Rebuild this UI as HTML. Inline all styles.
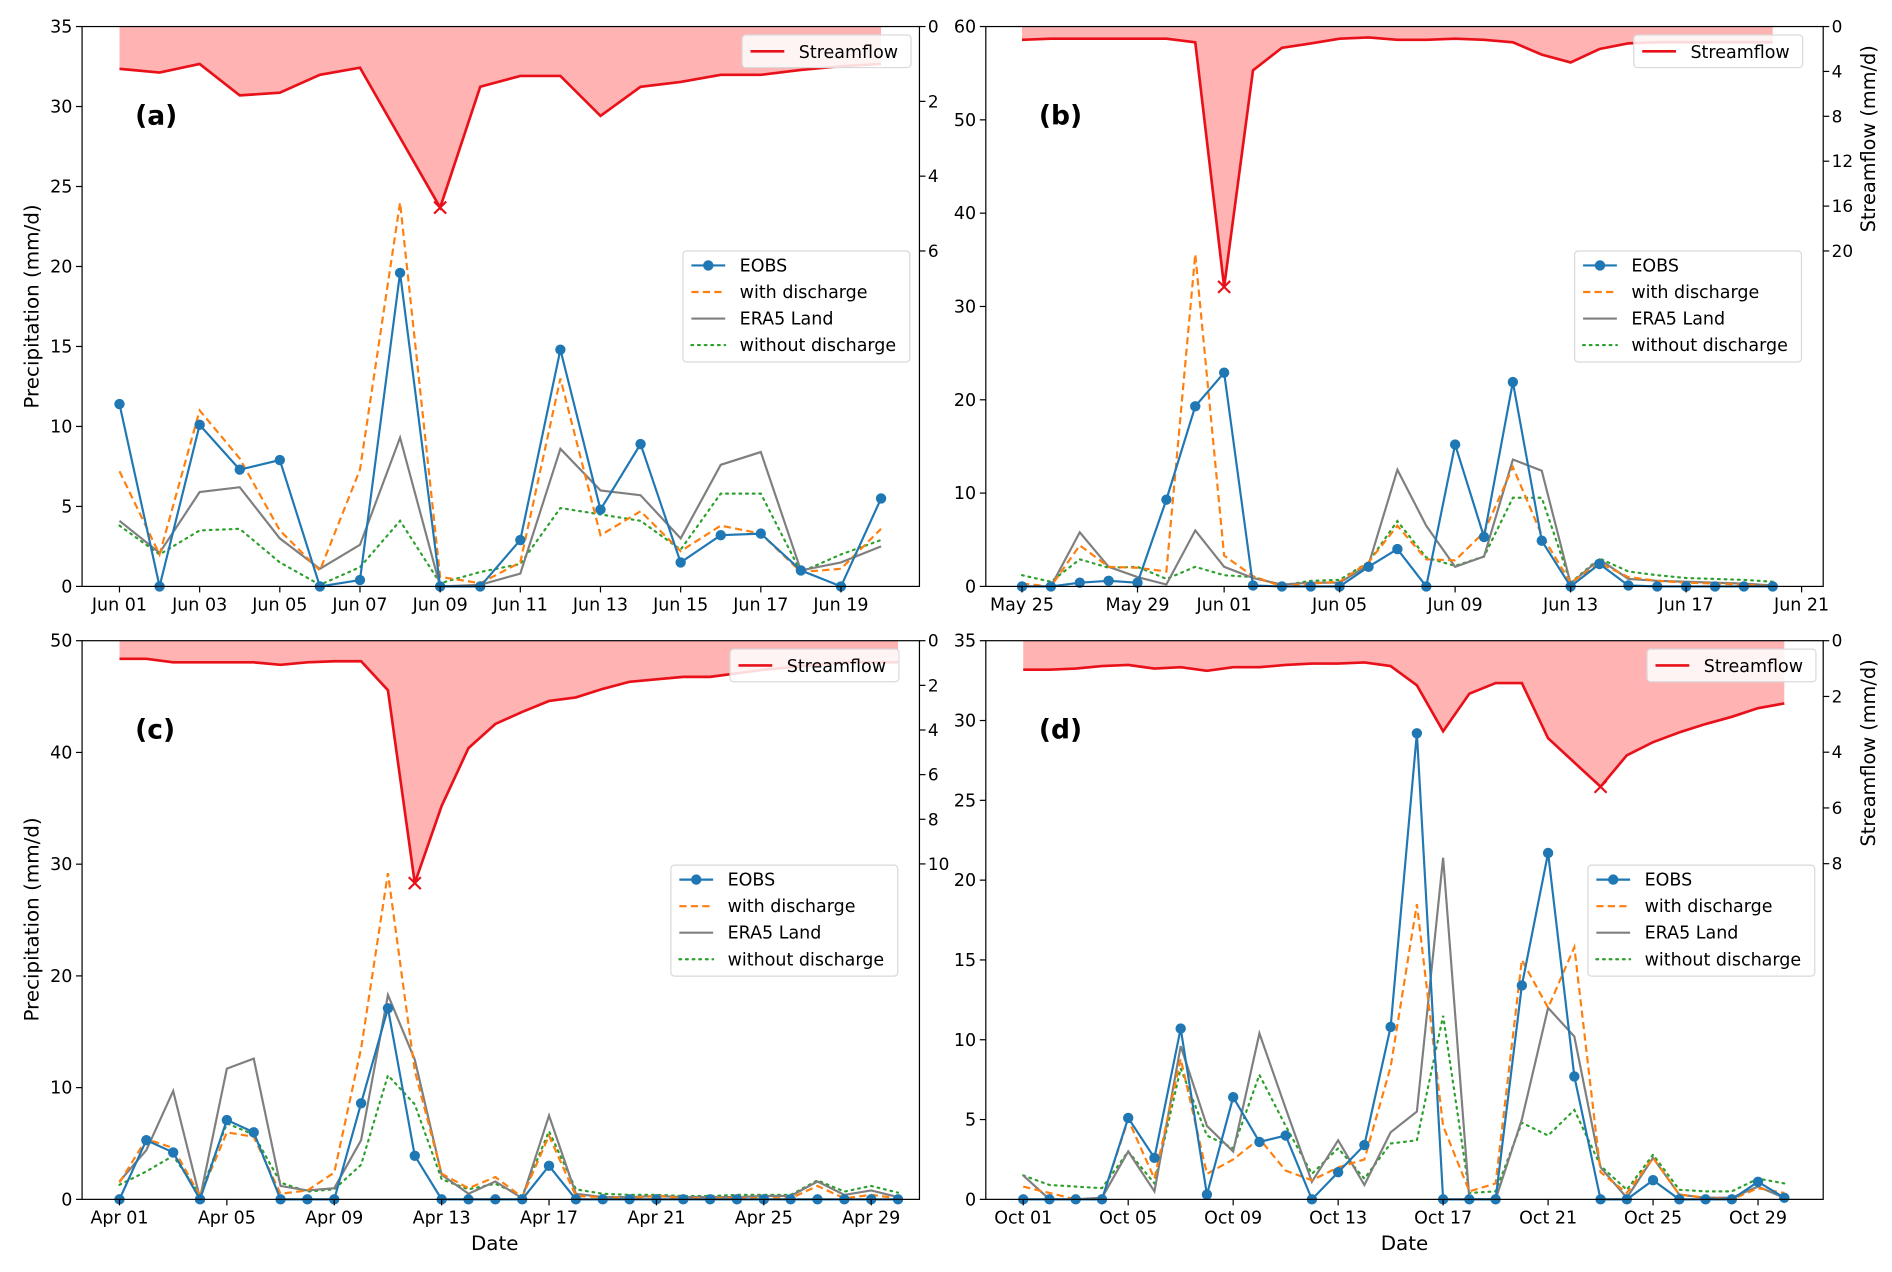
<!DOCTYPE html>
<html><head><meta charset="utf-8"><style>
html,body{margin:0;padding:0;background:#fff;}
svg{display:block;font-family:"DejaVu Sans","Liberation Sans",sans-serif;}
</style></head><body>
<svg id="fig" width="1892" height="1272" viewBox="0 0 1568 1054.2" xmlns="http://www.w3.org/2000/svg"></svg>
<script>
// ---- Panel (a) data: Jun 01 - Jun 20
const aDays = 20;
const aEOBS = [11.4,0,10.1,7.3,7.9,0,0.4,19.6,0,0,2.9,14.8,4.8,8.9,1.5,3.2,3.3,1.0,0,5.5];
const aWith = [7.2,2.0,11.0,8.0,3.5,1.0,7.3,24.0,0.6,0.2,1.5,13.0,3.2,4.7,2.2,3.8,3.3,0.9,1.1,3.6];
const aERA5 = [4.1,2.1,5.9,6.2,3.0,1.1,2.6,9.3,0,0.1,0.8,8.6,6.0,5.7,3.0,7.6,8.4,1.0,1.5,2.5];
const aWithout = [3.8,2.0,3.5,3.6,1.5,0.1,1.2,4.1,0.2,0.9,1.4,4.9,4.5,4.1,2.3,5.8,5.8,0.9,2.0,2.9];
const aFlow = [1.13,1.23,1.0,1.84,1.77,1.29,1.10,2.97,4.84,1.61,1.32,1.32,2.39,1.61,1.48,1.29,1.29,1.16,1.06,1.0];
const aTickIdx = [0,2,4,6,8,10,12,14,16,18];
const aTickLab = ["Jun 01","Jun 03","Jun 05","Jun 07","Jun 09","Jun 11","Jun 13","Jun 15","Jun 17","Jun 19"];
// ---- Panel (b) data: May 25 - Jun 20
const bDays = 27;
const bEOBS = [0,0,0.4,0.6,0.4,9.3,19.3,22.9,0.1,0,0,0,2.1,4.0,0,15.2,5.3,21.9,4.9,0,2.4,0.1,0,0,0,0,0];
const bWith = [0.3,0,4.4,2.1,2.0,1.6,35.6,3.3,1.1,0,0.3,0.5,2.6,6.5,2.9,2.8,5.8,12.8,5.5,0.4,2.5,1.0,0.6,0.4,0.3,0.2,0];
const bERA5 = [0,0,5.8,2.1,1.0,0.2,6.0,2.1,0.9,0.2,0.4,0.4,2.3,12.5,6.5,2.1,3.2,13.6,12.4,0.3,2.9,0.8,0.6,0.5,0.4,0.3,0.1];
const bWithout = [1.2,0.5,2.9,2.0,2.1,0.8,2.1,1.2,1.0,0.1,0.6,0.7,2.6,7.0,3.1,2.2,3.2,9.5,9.5,0.4,3.0,1.6,1.2,0.9,0.8,0.7,0.5];
const bFlow = [1.18,1.08,1.08,1.08,1.08,1.08,1.4,23.2,3.9,1.9,1.5,1.08,0.97,1.18,1.18,1.08,1.18,1.4,2.5,3.2,2.0,1.5,1.4,1.4,1.4,1.4,1.4];
const bTickIdx = [0,4,7,11,15,19,23,27];
const bTickLab = ["May 25","May 29","Jun 01","Jun 05","Jun 09","Jun 13","Jun 17","Jun 21"];
// ---- Panel (c) data: Apr 01 - Apr 30
const cDays = 30;
const cEOBS = [0,5.3,4.2,0,7.1,6.0,0,0,0,8.6,17.1,3.9,0,0,0,0,3.0,0,0,0,0,0,0,0,0,0,0,0,0,0];
const cWith = [1.5,5.4,4.6,0.3,6.0,5.6,0.5,0.8,2.4,13.5,29.2,11.5,2.3,1.0,2.0,0.2,5.7,0.3,0.2,0.1,0.3,0.1,0.1,0.1,0.1,0.1,1.2,0.1,0.4,0.1];
const cERA5 = [1.6,4.4,9.7,0.1,11.7,12.6,1.2,0.8,1.0,5.3,18.3,12.5,2.2,0.5,1.6,0.1,7.5,0.5,0.2,0.2,0.3,0.2,0.2,0.2,0.3,0.3,1.6,0.4,0.8,0.2];
const cWithout = [1.3,2.5,3.9,0.4,6.8,5.8,1.5,0.7,0.9,3.1,11.1,8.5,1.8,0.9,1.4,0.3,6.1,0.9,0.5,0.4,0.4,0.3,0.3,0.4,0.4,0.4,1.7,0.7,1.2,0.6];
const cFlow = [0.81,0.81,0.97,0.97,0.97,0.97,1.08,0.97,0.92,0.92,2.22,10.86,7.4,4.81,3.73,3.19,2.7,2.54,2.16,1.84,1.73,1.62,1.62,1.46,1.3,1.19,1.08,0.97,0.97,0.97];
const cTickIdx = [0,4,8,12,16,20,24,28];
const cTickLab = ["Apr 01","Apr 05","Apr 09","Apr 13","Apr 17","Apr 21","Apr 25","Apr 29"];
// ---- Panel (d) data: Oct 01 - Oct 30
const dDays = 30;
const dEOBS = [0,0,0,0,5.1,2.6,10.7,0.3,6.4,3.6,4.0,0,1.7,3.4,10.8,29.2,0,0,0,13.4,21.7,7.7,0,0,1.2,0,0,0,1.1,0.1];
const dWith = [0.8,0.4,0,0,5.0,1.3,8.8,1.6,2.5,3.8,1.8,1.2,2.0,2.5,8.3,18.5,4.6,0.5,1.0,15.0,12.0,15.8,1.7,0.4,2.6,0.3,0.1,0,0.7,0.4];
const dERA5 = [1.5,0,0,0.1,3.0,0.5,9.6,4.6,3.0,10.4,5.7,1.1,3.7,0.9,4.2,5.5,21.4,0,0,5.0,12.0,10.2,2.0,0.1,2.6,0.3,0.1,0.1,0.8,0.1];
const dWithout = [1.5,0.9,0.8,0.7,3.0,1.0,8.2,4.0,3.2,7.8,4.6,1.6,3.2,1.3,3.5,3.7,11.5,0.4,0.5,4.8,4.0,5.6,2.1,0.6,2.8,0.6,0.5,0.5,1.3,1.0];
const dFlow = [1.04,1.04,1.0,0.91,0.87,1.0,0.95,1.08,0.95,0.95,0.87,0.82,0.82,0.78,0.91,1.6,3.25,1.9,1.52,1.52,3.5,4.37,5.24,4.11,3.64,3.29,2.99,2.73,2.42,2.25];
const dTickIdx = [0,4,8,12,16,20,24,28];
const dTickLab = ["Oct 01","Oct 05","Oct 09","Oct 13","Oct 17","Oct 21","Oct 25","Oct 29"];

const NS = "http://www.w3.org/2000/svg";
const fig = document.getElementById('fig');
function mk(tag, attrs, parent, txt){
  const e = document.createElementNS(NS, tag);
  for (const k in attrs) e.setAttribute(k, attrs[k]);
  if (txt !== undefined) e.textContent = txt;
  (parent || fig).appendChild(e);
  return e;
}

function panel(cfg){
  const g = mk('g', {});
  
  
  const L = cfg.L, R = cfg.R, T = cfg.T, B = cfg.B;
  const x = i => cfg.x0 + cfg.dx * i;
  const y = v => B - (B - T) * v / cfg.ymax;
  const yr = v => T + cfg.rscale * v;

  let fp = 'M' + x(0) + ',' + T;
  cfg.flow.forEach((v, i) => { fp += ' L' + x(i) + ',' + yr(v); });
  fp += ' L' + x(cfg.flow.length - 1) + ',' + T + ' Z';
  const fill = mk('path', {d: fp, fill: '#ffb3b3', stroke: 'none'}, g);
  
  
  const fl = mk('polyline', {points: cfg.flow.map((v, i) => x(i) + ',' + yr(v)).join(' '), fill: 'none', stroke: '#e8111a', 'stroke-width': 2.2}, g);
  
  
  let mi = 0; cfg.flow.forEach((v, i) => { if (v > cfg.flow[mi]) mi = i; });
  const mx = x(mi), my = yr(cfg.flow[mi]);
  const xm = mk('path', {d: `M${mx-5},${my-5} L${mx+5},${my+5} M${mx-5},${my+5} L${mx+5},${my-5}`, stroke: '#e8111a', 'stroke-width': 1.8}, g);
  
  

  const series = [
    {d: cfg.without, c: '#2ca02c', dash: '1.5,4', w: 1.8, n: 'without-discharge-line', cap: 'round'},
    {d: cfg.era, c: '#7f7f7f', dash: '', w: 1.8, n: 'era5-land-line'},
    {d: cfg.withd, c: '#ff7f0e', dash: '6,3.5', w: 1.8, n: 'with-discharge-line'},
    {d: cfg.eobs, c: '#1f77b4', dash: '', w: 1.8, n: 'eobs-line'}
  ];
  series.forEach(s => {
    const p = mk('polyline', {points: s.d.map((v, i) => x(i) + ',' + y(v)).join(' '), fill: 'none', stroke: s.c, 'stroke-width': s.w, 'stroke-dasharray': s.dash, 'stroke-linecap': s.cap || 'butt'}, g);
    
    
  });
  cfg.eobs.forEach((v, i) => {
    const c = mk('circle', {cx: x(i), cy: y(v), r: 4.3, fill: '#1f77b4'}, g);
    
    
  });

  const fr = mk('rect', {x: L, y: T, width: R - L, height: B - T, fill: 'none', stroke: '#000', 'stroke-width': 1}, g);
  
  

  cfg.tickIdx.forEach((ti, k) => {
    mk('line', {x1: x(ti), x2: x(ti), y1: B, y2: B + 5, stroke: '#000'}, g);
    const t = mk('text', {x: x(ti), y: B + 20, 'font-size': 14.5, 'text-anchor': 'middle'}, g, cfg.tickLab[k]);
    
    
  });
  for (let v = 0; v <= cfg.ymax + 1e-9; v += cfg.ystep) {
    mk('line', {x1: L - 5, x2: L, y1: y(v), y2: y(v), stroke: '#000'}, g);
    const t = mk('text', {x: L - 8, y: y(v) + 5, 'font-size': 14.5, 'text-anchor': 'end'}, g, String(v));
    
    
  }
  cfg.rticks.forEach(v => {
    mk('line', {x1: R, x2: R + 5, y1: yr(v), y2: yr(v), stroke: '#000'}, g);
    const t = mk('text', {x: R + 7, y: yr(v) + 5, 'font-size': 14, 'text-anchor': 'start'}, g, String(v));
    
    
  });
  const pl = mk('text', {x: L + 44, y: T + 81, 'font-size': 22, 'font-weight': 'bold'}, g, '(' + cfg.id + ')');
  
  

  const sl = mk('g', {}, g);
  
  
  const sx = cfg.slx, sy = cfg.sly;
  mk('rect', {x: sx, y: sy, width: 140, height: 27, rx: 3, fill: '#fff', 'fill-opacity': 0.85, stroke: '#d9d9d9'}, sl);
  mk('line', {x1: sx + 7, x2: sx + 35, y1: sy + 13.5, y2: sy + 13.5, stroke: '#e8111a', 'stroke-width': 2.2}, sl);
  mk('text', {x: sx + 47, y: sy + 19, 'font-size': 14.5}, sl, 'Streamflow');

  const lg = mk('g', {}, g);
  
  
  const lx = cfg.lgx, ly = cfg.lgy;
  mk('rect', {x: lx, y: ly, width: 188, height: 92, rx: 3, fill: '#fff', 'fill-opacity': 0.85, stroke: '#d9d9d9'}, lg);
  const ents = [
    ['EOBS', '#1f77b4', '', true], ['with discharge', '#ff7f0e', '6,3.5', false],
    ['ERA5 Land', '#7f7f7f', '', false], ['without discharge', '#2ca02c', '1.5,4', false]
  ];
  ents.forEach((e, k) => {
    const yy = ly + 12 + k * 22;
    const eg = mk('g', {}, lg);
    
    
    mk('line', {x1: lx + 7, x2: lx + 35, y1: yy, y2: yy, stroke: e[1], 'stroke-width': 1.8, 'stroke-dasharray': e[2], 'stroke-linecap': e[2] === '1.5,4' ? 'round' : 'butt'}, eg);
    if (e[3]) mk('circle', {cx: lx + 21, cy: yy, r: 4.3, fill: e[1]}, eg);
    mk('text', {x: lx + 47, y: yy + 5, 'font-size': 14.5}, eg, e[0]);
  });
}

panel({id: 'a', L: 68, R: 762, T: 22, B: 486, x0: 99, dx: 33.22, ymax: 35, ystep: 5, rscale: 31, rticks: [0,2,4,6],
  eobs: aEOBS, withd: aWith, era: aERA5, without: aWithout, flow: aFlow, tickIdx: aTickIdx, tickLab: aTickLab,
  slx: 615, sly: 29, lgx: 566, lgy: 208});
panel({id: 'b', L: 817, R: 1511, T: 22, B: 486, x0: 847, dx: 23.93, ymax: 60, ystep: 10, rscale: 9.3, rticks: [0,4,8,12,16,20],
  eobs: bEOBS, withd: bWith, era: bERA5, without: bWithout, flow: bFlow, tickIdx: bTickIdx, tickLab: bTickLab,
  slx: 1354, sly: 29, lgx: 1305, lgy: 208});
panel({id: 'c', L: 68, R: 762, T: 531, B: 994, x0: 99, dx: 22.25, ymax: 50, ystep: 10, rscale: 18.5, rticks: [0,2,4,6,8,10],
  eobs: cEOBS, withd: cWith, era: cERA5, without: cWithout, flow: cFlow, tickIdx: cTickIdx, tickLab: cTickLab,
  slx: 605, sly: 538, lgx: 556, lgy: 717});
panel({id: 'd', L: 817, R: 1511, T: 531, B: 994, x0: 848, dx: 21.75, ymax: 35, ystep: 5, rscale: 23.1, rticks: [0,2,4,6,8],
  eobs: dEOBS, withd: dWith, era: dERA5, without: dWithout, flow: dFlow, tickIdx: dTickIdx, tickLab: dTickLab,
  slx: 1365, sly: 538, lgx: 1316, lgy: 717});

[[254,'y-axis-title-a'],[762,'y-axis-title-c']].forEach(p => {
  const t = mk('text', {x: 0, y: 0, 'font-size': 16.5, 'text-anchor': 'middle', transform: `translate(32,${p[0]}) rotate(-90)`}, fig, 'Precipitation (mm/d)');
  
  
});
[[115,'right-axis-title-b'],[624,'right-axis-title-d']].forEach(p => {
  const t = mk('text', {x: 0, y: 0, 'font-size': 16, 'text-anchor': 'middle', transform: `translate(1554,${p[0]}) rotate(-90)`}, fig, 'Streamflow (mm/d)');
  
  
});
[[410,'x-axis-title-c'],[1164,'x-axis-title-d']].forEach(p => {
  const t = mk('text', {x: p[0], y: 1036, 'font-size': 16.5, 'text-anchor': 'middle'}, fig, 'Date');
  
  
});
</script>
</body></html>
